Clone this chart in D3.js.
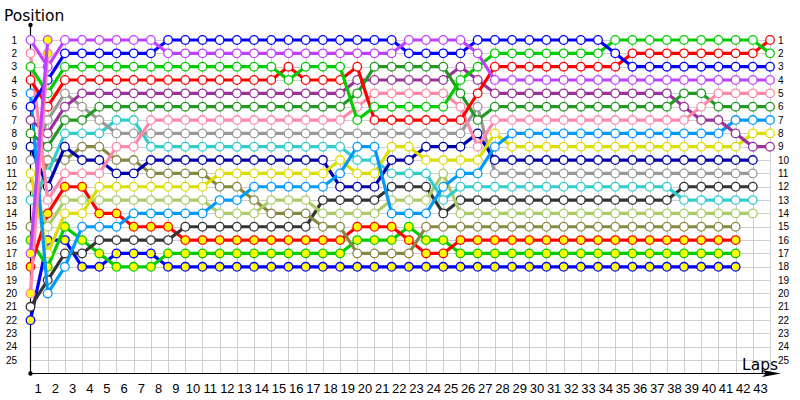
<!DOCTYPE html>
<html><head><meta charset="utf-8">
<script src="https://cdn.jsdelivr.net/npm/d3@7"></script>
<style>body{margin:0;background:#fff}svg{display:block}</style>
</head><body>
<svg id="chart" width="800" height="400"></svg>
<script>
// ---- data: position per lap (index 0 = grid, 1..43 = laps); null = not running ----
const lapTicks = d3.range(1, 44);
const positionTicks = d3.range(1, 26);

const violet    = [1,3,1,1,1,1,1,1,2,2,2,2,2,2,2,2,2,2,2,2,2,2,1,1,1,1,2,4,4,4,4,4,4,4,4,4,4,4,4,4,4,4,4,4];
const blue      = [6,4,2,2,2,2,2,2,1,1,1,1,1,1,1,1,1,1,1,1,1,1,2,2,2,2,1,1,1,1,1,1,1,1,2,3,3,3,3,3,3,3,3,3];
const green     = [3,5,3,3,3,3,3,3,3,3,3,3,3,3,3,4,3,3,3,7,6,6,6,6,6,4,3,2,2,2,2,2,2,2,1,1,1,1,1,1,1,1,1,2];
const red       = [4,6,4,4,4,4,4,4,4,4,4,4,4,4,4,3,4,4,4,3,7,7,7,7,7,7,5,3,3,3,3,3,3,3,3,2,2,2,2,2,2,2,2,1];
const purple    = [7,8,6,5,5,5,5,5,5,5,5,5,5,5,5,5,5,5,5,4,4,4,4,4,4,3,4,5,5,5,5,5,5,5,5,5,5,5,6,7,7,8,9,9];
const darkGreen = [8,9,7,7,6,6,6,6,6,6,6,6,6,6,6,6,6,6,6,5,3,3,3,3,3,5,7,6,6,6,6,6,6,6,6,6,6,6,5,5,6,6,6,6];
const pink      = [2,13,11,11,11,9,9,7,7,7,7,7,7,7,7,7,7,7,7,6,5,5,5,5,5,6,9,7,7,7,7,7,7,7,7,7,7,7,7,6,5,5,5,5];
const gray      = [10,7,5,6,7,8,8,8,8,8,8,8,8,8,8,8,8,8,8,8,8,8,8,8,8,8,6,11,11,11,11,11,11,11,11,11,11,11,11,11,11,11,11,null];
const cyan      = [13,11,8,8,8,7,7,9,9,9,9,9,9,9,9,9,9,9,9,10,10,11,11,11,13,12,12,12,12,12,12,12,12,12,12,12,12,12,13,13,13,13,13,null];
const darkBlue  = [9,12,9,10,10,11,11,10,10,10,10,10,10,10,10,10,10,10,12,12,12,10,10,9,9,9,8,10,10,10,10,10,10,10,10,10,10,10,10,10,10,10,10,null];
const yellow    = [11,17,14,14,12,12,12,12,12,12,12,11,11,11,11,11,11,11,10,11,11,9,9,10,10,10,10,8,9,9,9,9,9,9,9,9,9,9,9,9,9,9,8,8];
const lightBlue = [5,20,18,15,15,15,14,14,14,14,14,13,13,12,12,12,12,12,11,9,9,14,14,14,12,11,11,9,8,8,8,8,8,8,8,8,8,8,8,8,8,7,7,7];
const lightOlive= [12,15,13,13,13,13,13,13,13,13,13,14,14,14,13,13,13,14,14,14,14,13,13,13,11,14,14,14,14,14,14,14,14,14,14,14,14,14,14,14,14,14,14,null];
const olive     = [15,10,10,9,9,10,10,11,11,11,11,12,12,13,14,14,14,15,15,17,17,17,17,15,15,15,15,15,15,15,15,15,15,15,15,15,15,15,15,15,15,15,null,null];
const darkGray  = [21,19,17,17,16,16,16,16,16,15,15,15,15,15,15,15,15,13,13,13,13,12,12,12,14,13,13,13,13,13,13,13,13,13,13,13,13,13,12,12,12,12,12,null];
const redY      = [18,14,12,12,14,14,15,15,15,16,16,16,16,16,16,16,16,16,16,15,15,15,16,17,17,16,16,16,16,16,16,16,16,16,16,16,16,16,16,16,16,16,null,null];
const greenY    = [16,18,15,16,17,18,18,18,17,17,17,17,17,17,17,17,17,17,17,16,16,16,15,16,16,17,17,17,17,17,17,17,17,17,17,17,17,17,17,17,17,17,null,null];
const blueY     = [22,16,16,18,18,17,17,17,18,18,18,18,18,18,18,18,18,18,18,18,18,18,18,18,18,18,18,18,18,18,18,18,18,18,18,18,18,18,18,18,18,18,null,null];
const violetY   = [17,1];
const pinkY     = [20,2];

// series table (style kept separate from values)
const seriesData  = [blueY, greenY, redY, darkGray, olive, lightOlive, cyan, gray, darkBlue, yellow, lightBlue, purple, darkGreen, pink, red, green, blue, violet, pinkY, violetY];
const lineColors  = ["#0000ff","#00cc00","#ff0000","#333333","#888844","#aacc66","#33cccc","#999999","#0000aa","#dddd00","#0099ff","#993399","#229922","#ff88aa","#ff0000","#00cc00","#0000ff","#c040ff","#ff88aa","#c040ff"];
const markerFill  = ["#ffff00","#ffff00","#ffff00","#fff","#fff","#fff","#fff","#fff","#fff","#fff","#fff","#fff","#fff","#fff","#fff","#fff","#fff","#fff","#ffff00","#ffff00"];

// ---- layout ----
const svg = d3.select("#chart");
const x = d3.scaleLinear().domain([0, 43]).range([30.5, 770]);
const y = d3.scaleLinear().domain([1, 26]).range([40, 373.5]);

// grid
const grid = svg.append("g").attr("stroke", "#cfcfcf").attr("stroke-width", 1).attr("shape-rendering", "crispEdges");
grid.selectAll("line.h").data(positionTicks).join("line").attr("class","h")
  .attr("x1", x(0)).attr("x2", x(43)).attr("y1", d => Math.round(y(d)) + 0.5).attr("y2", d => Math.round(y(d)) + 0.5);
grid.selectAll("line.v").data(lapTicks).join("line").attr("class","v")
  .attr("x1", d => Math.round(x(d)) + 0.5).attr("x2", d => Math.round(x(d)) + 0.5).attr("y1", y(1)).attr("y2", y(26));

// axes
const axisG = svg.append("g");
axisG.append("line").attr("x1", x(0)).attr("x2", x(0)).attr("y1", 25).attr("y2", y(26)).attr("stroke", "#000").attr("stroke-width", 1.2);
axisG.append("line").attr("x1", x(0)).attr("x2", 772).attr("y1", y(26)).attr("y2", y(26)).attr("stroke", "#000").attr("stroke-width", 1.2);
axisG.append("circle").attr("cx", x(0)).attr("cy", 25).attr("r", 2.2).attr("fill", "#000");
axisG.append("circle").attr("cx", x(0)).attr("cy", y(26)).attr("r", 2.2).attr("fill", "#000");
axisG.append("path").attr("d", `M${762},${y(26)-3.5} L${781},${y(26)} L${762},${y(26)+3.5} L${766},${y(26)} Z`).attr("fill", "#000");

// tick labels
const tickFont = "'Liberation Sans', Arial, sans-serif";
svg.append("g").selectAll("text").data(positionTicks).join("text")
  .attr("x", 17).attr("y", d => y(d)).attr("dy", "0.35em").attr("text-anchor", "end")
  .attr("font-family", tickFont).attr("font-size", 10).attr("fill", "#000").text(d => d);
svg.append("g").selectAll("text").data(positionTicks).join("text")
  .attr("x", 778).attr("y", d => y(d)).attr("dy", "0.35em").attr("text-anchor", "start")
  .attr("font-family", tickFont).attr("font-size", 10).attr("fill", "#000").text(d => d);
svg.append("g").selectAll("text").data(lapTicks).join("text")
  .attr("x", d => x(d) - 9.5).attr("y", 393).attr("text-anchor", "middle")
  .attr("font-family", tickFont).attr("font-size", 13).attr("fill", "#000").text(d => d);

svg.append("text").attr("x", 4).attr("y", 21).attr("font-family", "'DejaVu Sans', sans-serif").attr("font-size", 15.5).text("Position");
svg.append("text").attr("x", 742).attr("y", 370).attr("font-family", "'DejaVu Sans', sans-serif").attr("font-size", 15.5).text("Laps");

// series
const line = d3.line().defined(d => d.p != null).x(d => x(d.lap)).y(d => y(d.p));
seriesData.forEach((vals, i) => {
  const pts = vals.map((p, lap) => ({lap, p}));
  const g = svg.append("g");
  g.append("path").datum(pts).attr("d", line).attr("fill", "none")
    .attr("stroke", lineColors[i]).attr("stroke-width", 3.2).attr("stroke-linejoin", "round");
  g.selectAll("circle").data(pts.filter(d => d.p != null)).join("circle")
    .attr("cx", d => x(d.lap)).attr("cy", d => y(d.p)).attr("r", 4.3)
    .attr("fill", markerFill[i]).attr("stroke", lineColors[i]).attr("stroke-width", 1.3);
});
</script>
</body></html>
